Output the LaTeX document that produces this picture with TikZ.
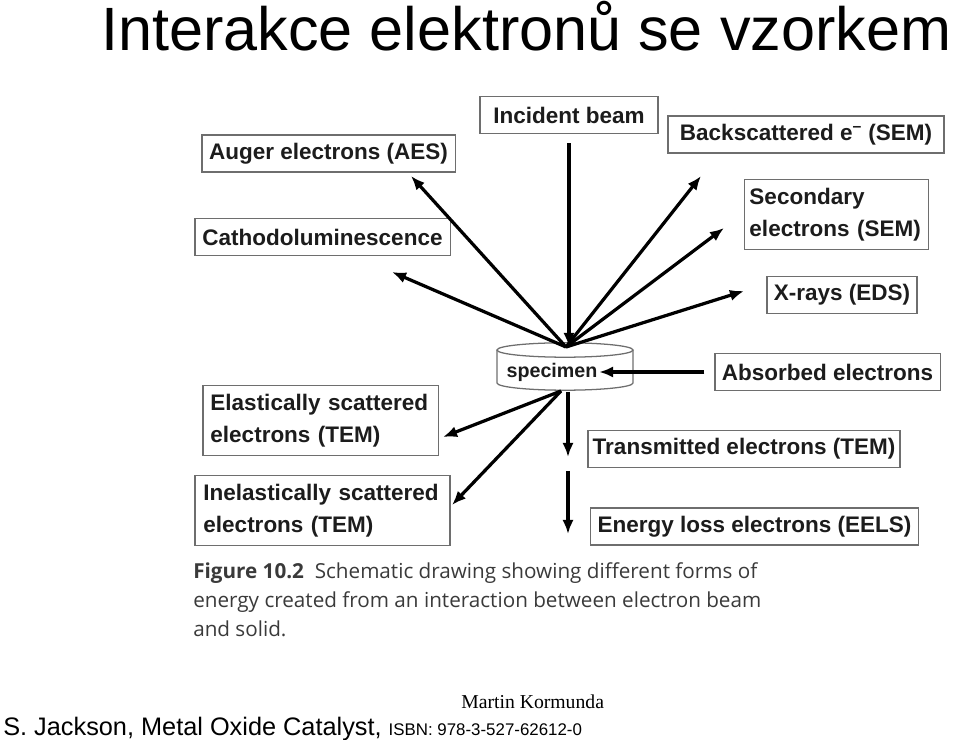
\documentclass[tikz,border=0pt]{standalone}
\usepackage{fontspec}
\setmainfont{Liberation Sans}
\newfontfamily\capfont{Open Sans}
\newfontfamily\timesfont{Liberation Serif}
\usetikzlibrary{arrows.meta, positioning, calc}
\definecolor{TxtMain}{HTML}{1C1C1C}
\definecolor{BoxLine}{HTML}{6E6E6E}
\definecolor{CapGray}{HTML}{3A3A3A}

\begin{document}
\begin{tikzpicture}[
  x=0.025cm, y=-0.025cm,
  bx/.style={draw=BoxLine, line width=0.9pt, inner sep=0pt,
             minimum height=0.93cm, text=TxtMain,
             font=\bfseries\fontsize{16}{22.5}\selectfont},
  bx2/.style={bx, align=left, minimum height=1.75cm},
  arr/.style={-{Latex[length=10pt,width=8pt]}, line width=2.3pt},
  cyl/.style={draw=BoxLine, line width=0.9pt},
]
  \useasboundingbox (0,0) rectangle (960,740);

  % title
  \node[anchor=base west, inner sep=0pt,
        font=\fontsize{43.5}{50}\selectfont] (title) at (101,51)
    {Interakce elektronů se vzorkem};

  % boxes above the specimen
  \node[bx, minimum width=4.45cm] (inc) at (569,115) {Incident beam};
  \node[bx, minimum width=6.33cm] (aug) at (328.5,153.5) {Auger electrons (AES)};
  \node[bx, minimum width=6.9cm]  (bsc) at (806,134.5)
    {Backscattered e\textsuperscript{--} (SEM)};
  \node[bx2, inner xsep=0.12cm, text width=4.35cm] (sec) at (836.5,214.5)
    {Secondary\\electrons (SEM)};
  \node[bx, minimum width=6.38cm] (cat) at (322.5,237) {Cathodoluminescence};
  \node[bx, minimum width=3.75cm] (xry) at (842,295) {X-rays (EDS)};

  % specimen
  \draw[cyl] (565,350) ellipse [x radius=1.7cm, y radius=0.18cm];
  \draw[cyl] (497,350) -- (497,383)
    arc[start angle=180, end angle=360, x radius=1.7cm, y radius=0.18cm]
    -- (633,350);
  \node[inner sep=1pt, text=TxtMain,
        font=\bfseries\fontsize{14}{16}\selectfont] (spec) at (552,372) {specimen};

  % boxes below the specimen
  \node[bx, minimum width=5.63cm] (abs) at (827.5,372) {Absorbed electrons};
  \node[bx2, inner xsep=0.19cm, text width=5.5cm] (ela) at (320.5,420.5)
    {Elastically scattered\\electrons (TEM)};
  \node[bx, minimum width=7.8cm]  (trn) at (744,449) {Transmitted electrons (TEM)};
  \node[bx2, inner xsep=0.21cm, text width=5.95cm] (ine) at (322.5,510.5)
    {Inelastically scattered\\electrons (TEM)};
  \node[bx, minimum width=8.18cm] (eel) at (754.5,526.5) {Energy loss electrons (EELS)};

  % arrow ends
  \coordinate (hubT) at (566,347);
  \coordinate (hubB) at (561,391);
  \coordinate (augT) at (411,176);
  \coordinate (catT) at (392,272);
  \coordinate (bscT) at (701,176);
  \coordinate (secT) at (724,228);
  \coordinate (xryT) at (744,291);
  \coordinate (elaT) at (443,437);
  \coordinate (ineT) at (452,505);
  \coordinate (trnS) at (568,392);
  \coordinate (trnT) at (568,457);
  \coordinate (eelS) at (568,471);
  \coordinate (eelT) at (568,534);

  \draw[arr, shorten <=6.5pt] (inc.south) -- (inc.south |- hubT);
  \draw[arr] (hubT) -- (augT);
  \draw[arr] (hubT) -- (catT);
  \draw[arr] (hubT) -- (bscT);
  \draw[arr] (hubT) -- (secT);
  \draw[arr] (hubT) -- (xryT);
  \draw[arr, shorten <=7pt] (abs.west) -- (abs.west -| spec.east);
  \draw[arr] (hubB) -- (elaT);
  \draw[arr] (hubB) -- (ineT);
  \draw[arr] (trnS) -- (trnT);
  \draw[arr] (eelS) -- (eelT);

  % caption
  \node[anchor=north west, inner sep=0pt, align=left, text=CapGray,
        font=\capfont\fontsize{14.7}{20.6}\selectfont] (cap) at (193,562)
    {\textbf{Figure 10.2}\ \ Schematic drawing showing different forms of\\
     energy created from an interaction between electron beam\\
     and solid.};

  % footer
  \node[anchor=base west, inner sep=0pt,
        font=\timesfont\fontsize{14}{16}\selectfont] (auth) at (461,708)
    {Martin Kormunda};
  \node[anchor=base west, inner sep=0pt,
        font=\fontsize{18}{20}\selectfont] (src) at (3,735)
    {S. Jackson, Metal Oxide Catalyst, {\fontsize{12}{14}\selectfont ISBN: 978-3-527-62612-0}};
\end{tikzpicture}
\end{document}
